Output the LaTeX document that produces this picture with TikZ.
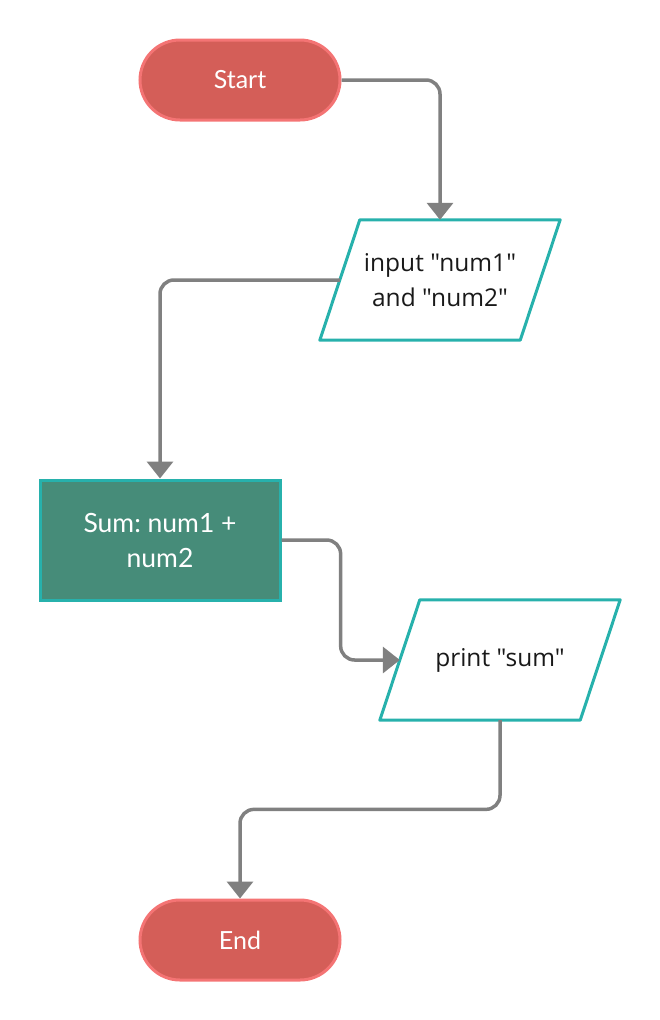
\documentclass[tikz,border=0pt]{standalone}
\usepackage{fontspec}
\setmainfont{Lato}[Ligatures=TeXOff]
\newfontfamily\iofont{Open Sans}[Ligatures=TeXOff]
\usetikzlibrary{arrows.meta,calc}
\definecolor{pillfill}{HTML}{D45E58}
\definecolor{pillline}{HTML}{F47474}
\definecolor{tealline}{HTML}{27B1AC}
\definecolor{sumfill}{HTML}{468C79}
\definecolor{conn}{HTML}{808080}
\begin{document}
\frenchspacing
\begin{tikzpicture}[x=1pt,y=-1pt,
  pill/.style={draw=pillline, fill=pillfill, line width=3pt, rounded corners=40pt,
    minimum width=200pt, minimum height=80pt, inner sep=0pt, text=white,
    font=\fontsize{25}{30}\selectfont},
  iobox/.style={minimum width=200pt, minimum height=120pt, inner sep=0pt, align=center,
    text=black!90, font=\iofont\fontsize{24.5}{35}\selectfont},
  iolines/.style={draw=tealline, line width=3pt, line join=round},
  procbox/.style={draw=tealline, fill=sumfill, line width=3pt, minimum width=240pt,
    minimum height=120pt, inner sep=0pt, align=center, text=white,
    font=\fontsize{26.5}{35}\selectfont},
  conn/.style={draw=conn, line width=3.5pt, rounded corners=14pt,
    -{Triangle[length=17pt,width=26pt]}}
]
\useasboundingbox (0,0) rectangle (660,1020);
\node[pill] (start) at (240,80) {Start};
\node[iobox] (in) at (440,280) {input "num1"\\and "num2"};
\node[procbox] (sum) at (160,540) {Sum: num1 +\\num2};
\node[iobox] (pr) at (500,660) {print "sum"};
\node[pill] (end) at (240,940) {End};
\draw[iolines] ([xshift=20pt]in.north west) -- ([xshift=20pt]in.north east)
  -- ([xshift=-20pt]in.south east) -- ([xshift=-20pt]in.south west) -- cycle;
\draw[iolines] ([xshift=20pt]pr.north west) -- ([xshift=20pt]pr.north east)
  -- ([xshift=-20pt]pr.south east) -- ([xshift=-20pt]pr.south west) -- cycle;
\draw[conn] (start.east) -| (in.north);
\draw[conn] (in.west) -| (sum.north);
\draw[conn] (sum.east) -| ($(sum.east)!0.5!(pr.west)$) |- (pr.west);
\draw[conn] (pr.south) |- ($(pr.south)!0.5!(end.north)$) -| (end.north);
\end{tikzpicture}
\end{document}
